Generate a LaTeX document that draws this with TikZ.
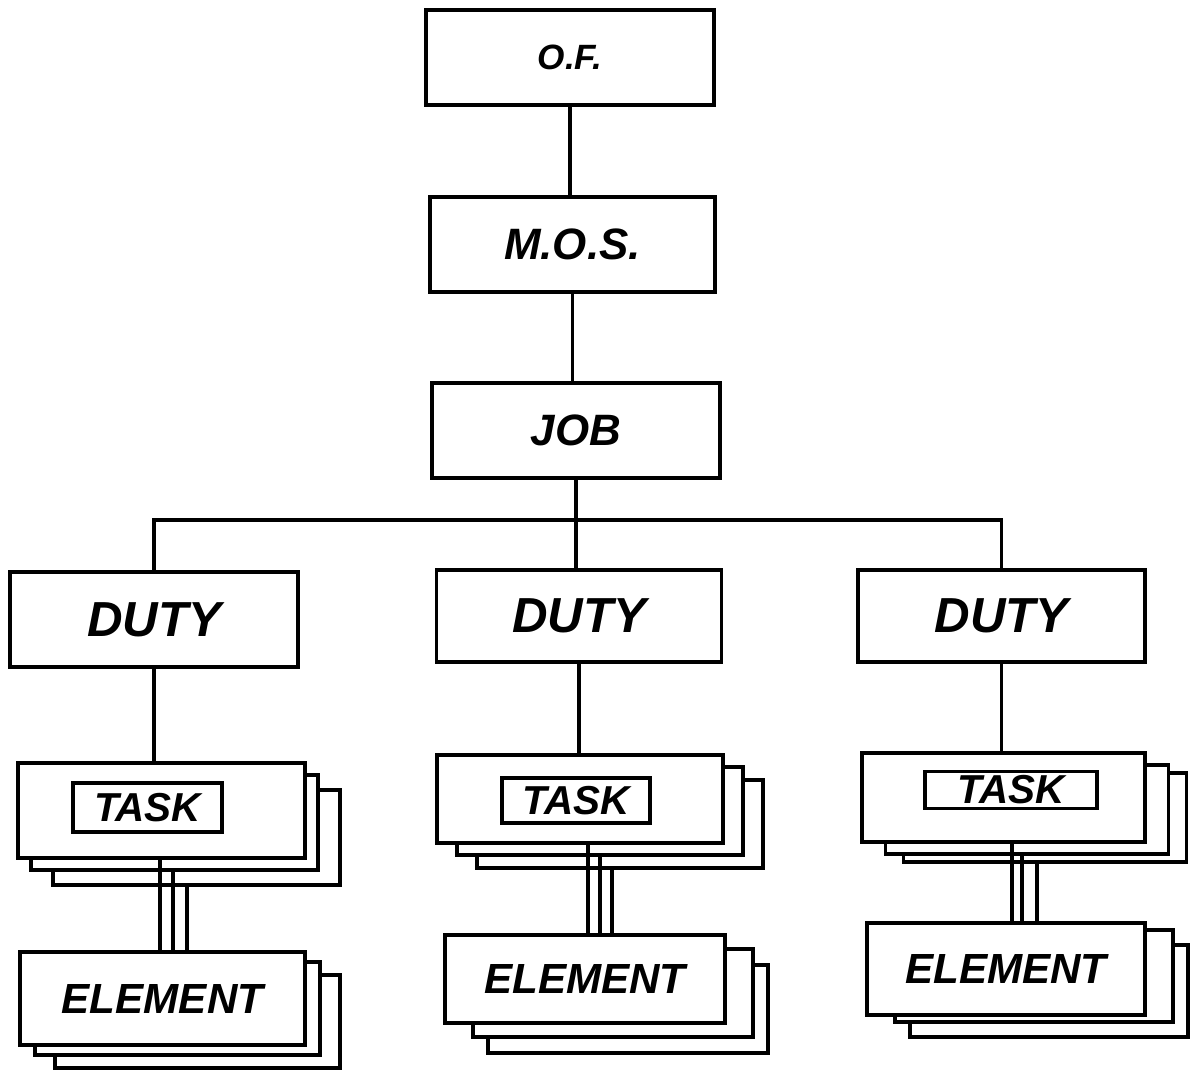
\documentclass[tikz,border=0pt]{standalone}
\usepackage{fontspec}
\setsansfont{Liberation Sans}
\def\px{0.02cm}
\begin{document}
\begin{tikzpicture}[x=0.02cm,y=-0.02cm,
  box/.style={draw, line width=2.2pt, fill=white, inner sep=0pt, font=\sffamily\bfseries\itshape},
  inbox/.style={draw, line width=2pt, inner sep=0pt, font=\sffamily\bfseries\itshape\fontsize{23}{23}\selectfont},
  conn/.style={line width=1.8pt}]
\useasboundingbox[fill=white] (0,0) rectangle (1192,1078);

% top chain
\node[box, minimum width=5.76cm, minimum height=1.9cm, font=\sffamily\bfseries\itshape\fontsize{20}{20}\selectfont] (of) at (570,57.5) {O.F.};
\node[box, minimum width=5.70cm, minimum height=1.9cm, font=\sffamily\bfseries\itshape\fontsize{25}{25}\selectfont] (mos) at (572.5,244.5) {M.O.S.};
\node[box, minimum width=5.76cm, minimum height=1.9cm, font=\sffamily\bfseries\itshape\fontsize{25}{25}\selectfont] (job) at (576,430.5) {JOB};

% duties
\node[box, minimum width=5.76cm, minimum height=1.9cm, font=\sffamily\bfseries\itshape\fontsize{28}{28}\selectfont] (dL) at (154,619.5) {DUTY};
\node[box, minimum width=5.70cm, minimum height=1.84cm, font=\sffamily\bfseries\itshape\fontsize{28}{28}\selectfont] (dM) at (579,616) {DUTY};
\node[box, minimum width=5.74cm, minimum height=1.84cm, font=\sffamily\bfseries\itshape\fontsize{28}{28}\selectfont] (dR) at (1001.5,616) {DUTY};

% task stacks (back to front)
\node[box, minimum width=5.74cm, minimum height=1.9cm] (tL3) at (196.5,837.5) {};
\node[box, minimum width=5.74cm, minimum height=1.9cm] (tL2) at (174.5,822.5) {};
\node[box, minimum width=5.74cm, minimum height=1.9cm] (tL) at (161.5,810.5) {};
\node[inbox, minimum width=2.98cm, minimum height=0.98cm] (tiL) at (147.5,807.5) {TASK};

\node[box, minimum width=5.72cm, minimum height=1.76cm] (tM3) at (620,824) {};
\node[box, minimum width=5.72cm, minimum height=1.76cm] (tM2) at (600,811) {};
\node[box, minimum width=5.72cm, minimum height=1.76cm] (tM) at (580,799) {};
\node[inbox, minimum width=2.96cm, minimum height=0.9cm] (tiM) at (576,800.5) {TASK};

\node[box, minimum width=5.66cm, minimum height=1.78cm] (tR3) at (1045,817.5) {};
\node[box, minimum width=5.66cm, minimum height=1.78cm] (tR2) at (1027,809.5) {};
\node[box, minimum width=5.66cm, minimum height=1.78cm] (tR) at (1003.5,797.5) {};
\node[inbox, minimum width=3.44cm, minimum height=0.74cm] (tiR) at (1011,790) {TASK};

% element stacks
\node[box, minimum width=5.70cm, minimum height=1.86cm] (eL3) at (197.5,1021.5) {};
\node[box, minimum width=5.70cm, minimum height=1.86cm] (eL2) at (177.5,1008.5) {};
\node[box, minimum width=5.70cm, minimum height=1.86cm, font=\sffamily\bfseries\itshape\fontsize{24}{24}\selectfont] (eL) at (162.5,998.5) {ELEMENT};

\node[box, minimum width=5.60cm, minimum height=1.76cm] (eM3) at (628,1009) {};
\node[box, minimum width=5.60cm, minimum height=1.76cm] (eM2) at (613,993) {};
\node[box, minimum width=5.60cm, minimum height=1.76cm, font=\sffamily\bfseries\itshape\fontsize{24}{24}\selectfont] (eM) at (585,979) {ELEMENT};

\node[box, minimum width=5.56cm, minimum height=1.84cm] (eR3) at (1049,991) {};
\node[box, minimum width=5.56cm, minimum height=1.84cm] (eR2) at (1034,976) {};
\node[box, minimum width=5.56cm, minimum height=1.84cm, font=\sffamily\bfseries\itshape\fontsize{24}{24}\selectfont] (eR) at (1006,969) {ELEMENT};

% connectors top chain
\draw[conn] (of.south) -- (of.south |- mos.north);
\draw[conn] (mos.south) -- (mos.south |- job.north);
\draw[conn] (job.south) -- (job.south |- dM.north);
\coordinate (bus) at (576,520);
\draw[conn] (dL.north) |- (bus) -| (dR.north);

% duty to task
\draw[conn] (dL.south) -- (dL.south |- tL.north);
\draw[conn] (dM.south) -- (dM.south |- tM.north);
\draw[conn] (dR.south) -- (dR.south |- tR.north);

% triple connectors task -> element
\foreach \t/\e/\a/\b/\c in {tL/eL/-1.5/11.5/25.5, tM/eM/8/20/32, tR/eR/8.5/18.5/33.5}{
  \draw[conn] ([xshift=\a*\px]\t.south) -- ([xshift=\a*\px]\t.south |- \e.north);
  \draw[conn] ([xshift=\b*\px]\t.south |- \t2.south) -- ([xshift=\b*\px]\t.south |- \e.north);
  \draw[conn] ([xshift=\c*\px]\t.south |- \t3.south) -- ([xshift=\c*\px]\t.south |- \e.north);
}
\end{tikzpicture}
\end{document}
